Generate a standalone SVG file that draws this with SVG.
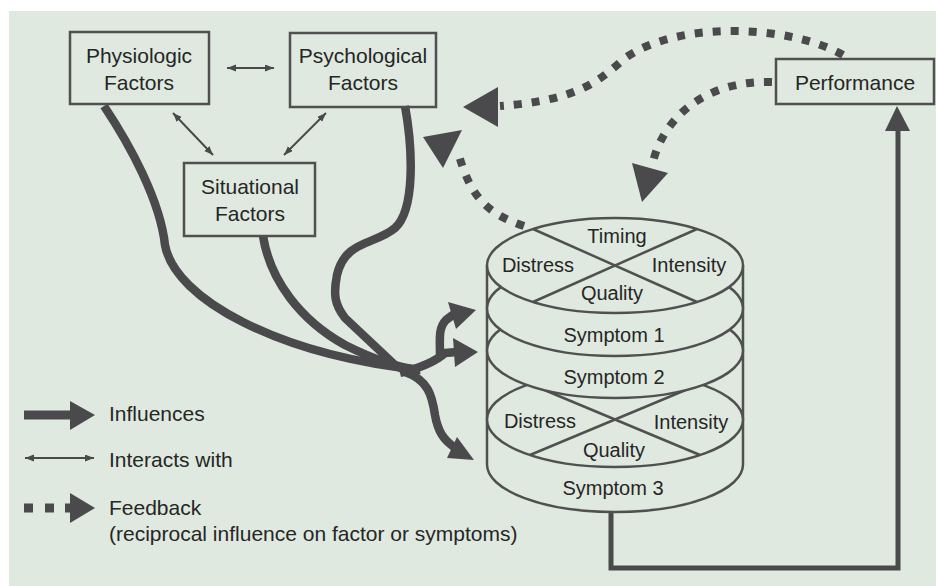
<svg xmlns="http://www.w3.org/2000/svg" width="936" height="586" viewBox="0 0 936 586">
<defs>
<style>
.bg{fill:#dfe9df}
.box{fill:none;stroke:#505050;stroke-width:2.5}
.t{font-family:"Liberation Sans",Arial,sans-serif;font-size:21px;fill:#262626;text-anchor:middle}
.tc{font-family:"Liberation Sans",Arial,sans-serif;font-size:20px;fill:#262626;text-anchor:middle}
.tl{font-family:"Liberation Sans",Arial,sans-serif;font-size:21px;fill:#262626;text-anchor:start}
.thick{fill:none;stroke:#4a4a4c;stroke-width:8.5;stroke-linejoin:round}
.thin{fill:none;stroke:#4a4a4c;stroke-width:2;marker-start:url(#ah);marker-end:url(#ah)}
.dot{fill:none;stroke:#4a4a4c;stroke-width:8;stroke-dasharray:8 10}
.head{fill:#4a4a4c}
.cyl{fill:#dfe9df;stroke:#505050;stroke-width:2.5}
.cl{fill:none;stroke:#505050;stroke-width:2.5}
</style>
<marker id="ah" markerUnits="userSpaceOnUse" markerWidth="10" markerHeight="8" refX="9" refY="3.5" orient="auto-start-reverse" viewBox="0 0 10 8">
<path d="M0,0 L9,3.5 L0,7 z" fill="#4a4a4c"/>
</marker>
</defs>
<rect x="0" y="0" width="936" height="586" fill="#ffffff"/>
<rect class="bg" x="9" y="11" width="927" height="575"/>

<g id="connectors">
<!-- interacts -->
<line class="thin" x1="227" y1="68" x2="274" y2="68"/>
<line class="thin" x1="173" y1="113" x2="213" y2="155"/>
<line class="thin" x1="326" y1="113" x2="284" y2="155"/>
<!-- influences -->
<path class="thick" d="M104 106 C130 145,160 200,165 245 C175 300,280 355,420 370"/>
<path class="thick" d="M263 236 C270 280,300 320,345 345 C375 360,400 368,420 370"/>
<path class="thick" d="M405 106 C413 150,415 210,395 228 C375 245,345 240,337 275 C333 295,335 305,345 318 L395 365 Q405 372 420 370"/>
<path class="thick" d="M405 372 C428 380,432 395,435 415 C438 432,444 440,454 447"/>
<path class="thick" d="M400 373 C420 368,435 362,445 353 L457 352"/>
<path class="thick" d="M440 356 C440 340,438 328,446 320 L454 314"/>
<polygon class="head" points="457,437 447,458 474,460"/>
<polygon class="head" points="453,338 455,367 478,352"/>
<polygon class="head" points="448,302 456,329 476,310"/>
<!-- feedback -->
<path class="dot" d="M843 55 C790 25,680 20,625 58 C600 80,580 100,500 106"/>
<polygon class="head" points="498,87 498,127 463,107"/>
<path class="dot" d="M772 82 C705 80,662 118,652 166"/>
<polygon class="head" points="632,163 668,173 642,202"/>
<path class="dot" d="M524 226 C485 213,470 195,458 152"/>
<polygon class="head" points="462,130 443,168 423,137"/>
<!-- symptoms to performance -->
<path d="M611 512 L611 568 L898 568 L898 126" fill="none" stroke="#4a4a4c" stroke-width="5"/>
<polygon class="head" points="885,131 910,131 897,106"/>
</g>

<g id="physiologic">
<rect class="box" x="70" y="32" width="139" height="72"/>
<text class="t" x="139" y="63">Physiologic</text>
<text class="t" x="139" y="90">Factors</text>
</g>
<g id="psychological">
<rect class="box" x="290" y="33" width="146" height="74"/>
<text class="t" x="363" y="63">Psychological</text>
<text class="t" x="363" y="90">Factors</text>
</g>
<g id="situational">
<rect class="box" x="184" y="163" width="131" height="73"/>
<text class="t" x="250" y="194">Situational</text>
<text class="t" x="250" y="221">Factors</text>
</g>
<g id="performance">
<rect class="box" x="776" y="59" width="158" height="45"/>
<text class="t" x="855" y="90">Performance</text>
</g>

<g id="symptoms">
<path class="cl" d="M487 265.5 L487 464.5 A128 47.5 0 0 0 743 464.5 L743 265.5"/>
<ellipse class="cyl" cx="615" cy="419.5" rx="128" ry="47.5"/>
<line class="cl" x1="530" y1="384" x2="700" y2="455"/>
<line class="cl" x1="700" y1="384" x2="530" y2="455"/>
<ellipse class="cyl" cx="615" cy="350.5" rx="128" ry="47.5"/>
<ellipse class="cyl" cx="615" cy="308.5" rx="128" ry="47.5"/>
<ellipse class="cyl" cx="615" cy="265.5" rx="128" ry="47.5"/>
<line class="cl" x1="533" y1="229" x2="697" y2="302"/>
<line class="cl" x1="697" y1="229" x2="533" y2="302"/>
<text class="tc" x="617" y="243">Timing</text>
<text class="tc" x="538" y="272">Distress</text>
<text class="tc" x="689" y="272">Intensity</text>
<text class="tc" x="612" y="300">Quality</text>
<text class="tc" x="614" y="342">Symptom 1</text>
<text class="tc" x="614" y="384">Symptom 2</text>
<text class="tc" x="540" y="428">Distress</text>
<text class="tc" x="691" y="429">Intensity</text>
<text class="tc" x="614" y="457">Quality</text>
<text class="tc" x="613" y="495">Symptom 3</text>
</g>

<g id="legend">
<line x1="24" y1="415" x2="71" y2="415" stroke="#4a4a4c" stroke-width="9"/>
<polygon class="head" points="70,401 95,415 70,430"/>
<text class="tl" x="109" y="421">Influences</text>
<line class="thin" x1="25" y1="458" x2="94" y2="458"/>
<text class="tl" x="109" y="467">Interacts with</text>
<rect class="head" x="24" y="503.5" width="9" height="9"/>
<rect class="head" x="45" y="503.5" width="9" height="9"/>
<rect class="head" x="65" y="503.5" width="7" height="9"/>
<polygon class="head" points="70,493 95,508 70,523"/>
<text class="tl" x="109" y="515">Feedback</text>
<text class="tl" x="109" y="541">(reciprocal influence on factor or symptoms)</text>
</g>
</svg>
